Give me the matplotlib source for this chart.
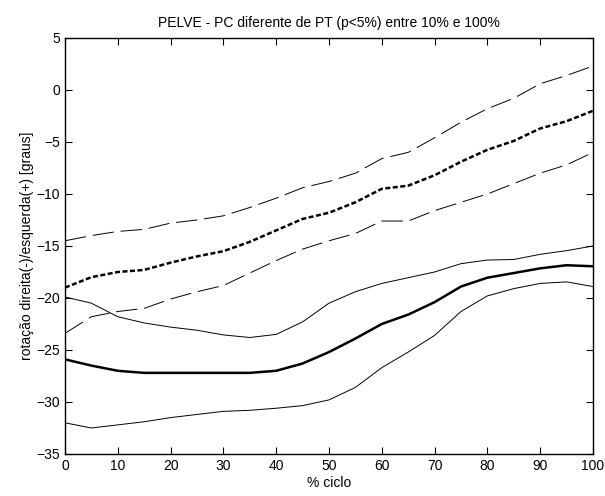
import matplotlib
matplotlib.use("Agg")
import matplotlib.pyplot as plt

plt.rcParams['font.family'] = ['Liberation Sans', 'DejaVu Sans']

# % do ciclo
ciclo = [0, 5, 10, 15, 20, 25, 30, 35, 40, 45, 50,
         55, 60, 65, 70, 75, 80, 85, 90, 95, 100]

# PT (tracejado): media e +/- desvio padrao
pt_media = [-19.0, -18.0, -17.5, -17.3, -16.6, -16.0, -15.5, -14.6, -13.5, -12.4, -11.8,
            -10.8, -9.5, -9.2, -8.2, -6.9, -5.75, -4.9, -3.7, -3.0, -2.0]
pt_sup = [-14.5, -14.0, -13.6, -13.4, -12.8, -12.5, -12.1, -11.3, -10.4, -9.4, -8.8,
          -8.0, -6.6, -6.0, -4.6, -3.1, -1.8, -0.8, 0.6, 1.4, 2.3]
pt_inf = [-23.4, -21.8, -21.3, -21.0, -20.1, -19.4, -18.8, -17.6, -16.4, -15.3, -14.5,
          -13.8, -12.6, -12.6, -11.6, -10.8, -10.0, -9.0, -8.0, -7.2, -6.0]

# PC (continuo): media e +/- desvio padrao
pc_media = [-25.9, -26.5, -27.0, -27.2, -27.2, -27.2, -27.2, -27.2, -27.0, -26.3, -25.2,
            -23.9, -22.5, -21.6, -20.4, -18.9, -18.05, -17.6, -17.15, -16.85, -16.95]
pc_sup = [-19.9, -20.5, -21.8, -22.4, -22.8, -23.1, -23.55, -23.8, -23.5, -22.3, -20.5,
          -19.4, -18.6, -18.05, -17.5, -16.7, -16.35, -16.3, -15.8, -15.45, -15.0]
pc_inf = [-32.0, -32.5, -32.2, -31.9, -31.5, -31.2, -30.9, -30.8, -30.6, -30.35, -29.8,
          -28.6, -26.7, -25.2, -23.6, -21.3, -19.8, -19.1, -18.6, -18.45, -18.9]

fig = plt.figure(figsize=(6.05, 4.96), dpi=100)
ax = fig.add_axes([0.1074, 0.0847, 0.8727, 0.8387])

# PT
ax.plot(ciclo, pt_sup, color='black', lw=0.7, dashes=(22, 7))
ax.plot(ciclo, pt_media, color='black', lw=1.8, dashes=(2.0, 1.0))
ax.plot(ciclo, pt_inf, color='black', lw=0.7, dashes=(22, 7))

# PC
ax.plot(ciclo, pc_sup, color='black', lw=0.7)
ax.plot(ciclo, pc_media, color='black', lw=1.8)
ax.plot(ciclo, pc_inf, color='black', lw=0.7)

ax.set_xlim(0, 100)
ax.set_ylim(-35, 5)
ax.set_xticks(range(0, 101, 10))
ax.set_yticks(range(-35, 6, 5))
ax.tick_params(direction='in', top=True, right=True, length=5, width=0.8,
               labelsize=10, colors='black')
for s in ax.spines.values():
    s.set_linewidth(1.0)

ax.set_title('PELVE - PC diferente de PT (p<5%) entre 10% e 100%', fontsize=10, pad=8)
ax.set_xlabel('% ciclo', fontsize=10, labelpad=2)
ax.set_ylabel('rotação direita(-)/esquerda(+) [graus]', fontsize=10, labelpad=2)

fig.savefig('out.png', dpi=100)
